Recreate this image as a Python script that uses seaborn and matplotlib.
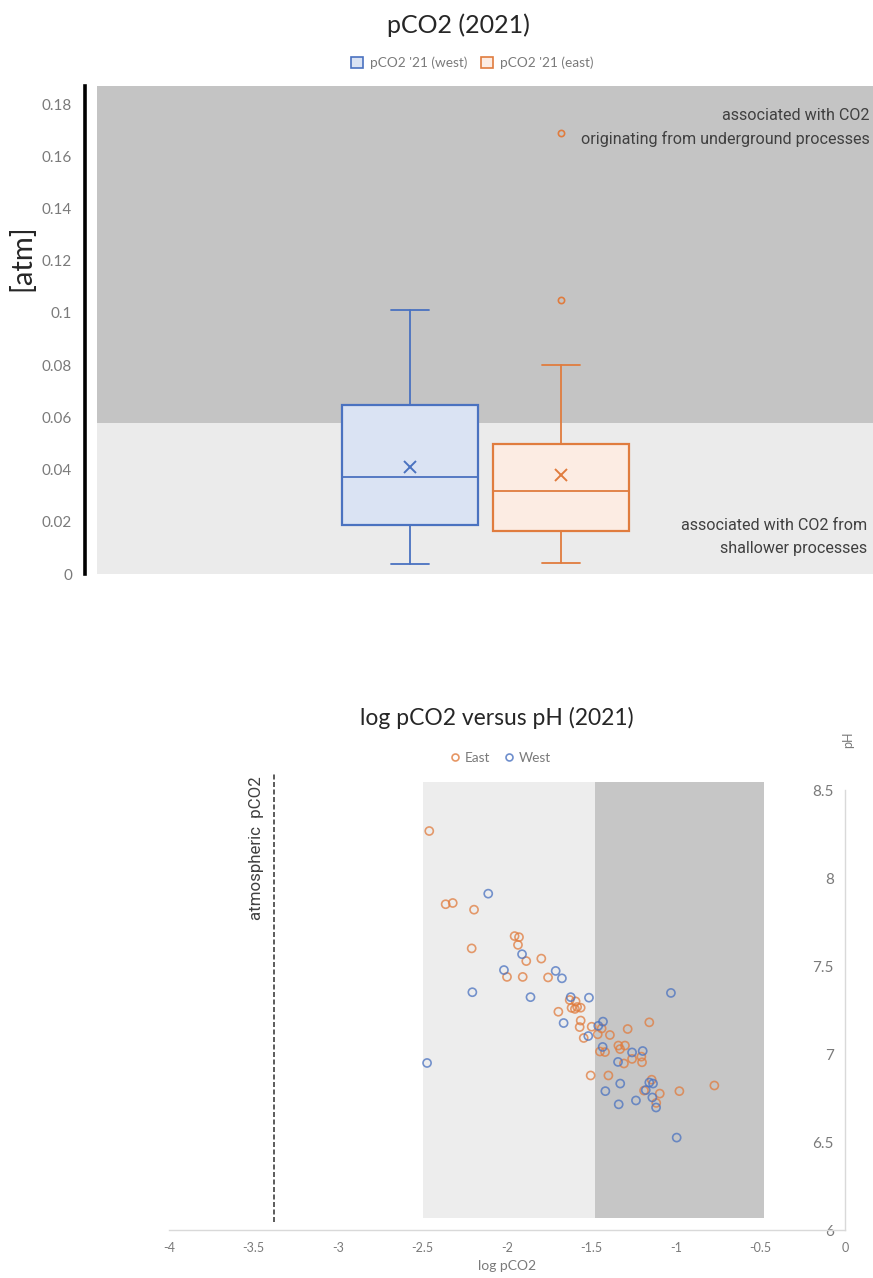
import matplotlib
matplotlib.use("Agg")
import matplotlib.pyplot as plt
import seaborn as sns
import pandas as pd
from matplotlib.patches import Rectangle, Patch
from matplotlib.lines import Line2D

# ---------------- data: box plot (pCO2 2021, atm) ----------------
box_labels = ["pCO2 '21 (west)", "pCO2 '21 (east)"]
box_whislo = [0.0038, 0.0041]
box_q1 = [0.0187, 0.0166]
box_median = [0.0372, 0.0317]
box_q3 = [0.0646, 0.0499]
box_whishi = [0.1011, 0.0801]
box_mean = [0.0411, 0.0378]
box_outliers = [[], [0.105, 0.169]]
top_yticks = [0, 0.02, 0.04, 0.06, 0.08, 0.1, 0.12, 0.14, 0.16, 0.18]
top_yticklabels = ["0", "0.02", "0.04", "0.06", "0.08", "0.1", "0.12", "0.14", "0.16", "0.18"]
deep_threshold = 0.058
top_ymax = 0.1869

# ---------------- data: scatter (log pCO2 vs pH) ----------------
east_log_pco2 = [-2.46, -2.363, -2.321, -2.195, -2.209, -1.955, -1.929, -1.935, -1.886, -1.797,
                 -2.0, -1.907, -1.757, -1.629, -1.594, -1.618, -1.598, -1.585, -1.564, -1.696,
                 -1.564, -1.57, -1.499, -1.44, -1.286, -1.158, -1.546, -1.463, -1.391, -1.341,
                 -1.331, -1.302, -1.45, -1.42, -1.26, -1.205, -1.201, -1.308, -1.505, -1.4,
                 -1.144, -0.773, -1.189, -1.096, -0.98, -1.117]
east_ph = [8.267, 7.851, 7.858, 7.82, 7.60, 7.67, 7.664, 7.62, 7.528, 7.542,
           7.438, 7.438, 7.435, 7.307, 7.299, 7.262, 7.256, 7.267, 7.263, 7.24,
           7.19, 7.153, 7.155, 7.145, 7.142, 7.18, 7.091, 7.112, 7.108, 7.048,
           7.028, 7.048, 7.014, 7.011, 6.972, 6.985, 6.953, 6.946, 6.878, 6.878,
           6.854, 6.821, 6.792, 6.775, 6.789, 6.722]
west_log_pco2 = [-2.111, -1.911, -2.018, -1.712, -1.675, -2.205, -1.861, -1.623, -1.515, -1.03,
                 -1.665, -1.46, -1.432, -1.519, -1.434, -1.26, -1.197, -1.343, -1.33, -1.158,
                 -1.136, -1.418, -1.179, -1.14, -1.237, -1.339, -1.118, -0.996, -2.473]
west_ph = [7.911, 7.567, 7.477, 7.472, 7.43, 7.351, 7.323, 7.323, 7.32, 7.347,
           7.176, 7.16, 7.184, 7.102, 7.04, 7.009, 7.017, 6.955, 6.832, 6.838,
           6.832, 6.789, 6.795, 6.753, 6.736, 6.714, 6.696, 6.525, 6.949]
atm_log_pco2 = -3.38
shallow_range = [-2.5, -1.48]
deep_range = [-1.48, -0.48]
x_ticks = [-4, -3.5, -3, -2.5, -2, -1.5, -1, -0.5, 0]
x_ticklabels = ["-4", "-3.5", "-3", "-2.5", "-2", "-1.5", "-1", "-0.5", "0"]
y_ticks = [6, 6.5, 7, 7.5, 8, 8.5]
y_ticklabels = ["6", "6.5", "7", "7.5", "8", "8.5"]

# ---------------- style ----------------
sns.set_theme(style="white")
plt.rcParams["font.family"] = ["Lato", "DejaVu Sans"]

BLUE = "#4A72C0"
ORANGE = "#E07C3E"
BLUE_FILL = "#DAE3F3"
ORANGE_FILL = "#FCECE3"
DARK_BG = "#C4C4C4"
LIGHT_BG = "#EBEBEB"
TICK_C = "#7A7A7A"
TEXT_C = "#262626"

W, H = 873, 1278
fig = plt.figure(figsize=(W / 100, H / 100), dpi=100)


def fx(px):
    return px / W


def fy(py):
    return 1 - py / H


# ================= top: box plot =================
ax1 = fig.add_axes([fx(97), fy(574), fx(873) - fx(97), fy(86) - fy(574)])
ax1.set_xlim(0, 1)
ax1.set_ylim(0, top_ymax)
ax1.axhspan(0, deep_threshold, color=LIGHT_BG, lw=0, zorder=0)
ax1.axhspan(deep_threshold, top_ymax, color=DARK_BG, lw=0, zorder=0)

stats = []
for i in range(len(box_labels)):
    stats.append(dict(label=box_labels[i], whislo=box_whislo[i], q1=box_q1[i], med=box_median[i],
                      q3=box_q3[i], whishi=box_whishi[i], mean=box_mean[i], fliers=box_outliers[i]))

positions = [0.4034, 0.598]
colors = [BLUE, ORANGE]
fills = [BLUE_FILL, ORANGE_FILL]
for i, st in enumerate(stats):
    c = colors[i]
    ax1.bxp([st], positions=[positions[i]], widths=0.175, patch_artist=True, showmeans=True,
            showfliers=True, manage_ticks=False, capwidths=0.05,
            boxprops=dict(facecolor=fills[i], edgecolor=c, linewidth=1.6),
            whiskerprops=dict(color=c, linewidth=1.3),
            capprops=dict(color=c, linewidth=1.3),
            medianprops=dict(color=c, linewidth=1.3),
            meanprops=dict(marker="x", markeredgecolor=c, markersize=9, markeredgewidth=1.4),
            flierprops=dict(marker="o", markerfacecolor="none", markeredgecolor=c,
                            markersize=4.5, markeredgewidth=1.2),
            zorder=3)

ax1.set_yticks(top_yticks)
ax1.set_yticklabels(top_yticklabels, fontsize=10.5)
ax1.set_xticks([])
for s in ["top", "right", "bottom"]:
    ax1.spines[s].set_visible(False)
ax1.spines["left"].set_position(("outward", 9))
ax1.spines["left"].set_color("black")
ax1.spines["left"].set_linewidth(2.6)
ax1.tick_params(axis="y", length=0, pad=9, labelcolor=TICK_C)

ann_kw = dict(ha="right", va="center", fontsize=11.6, color="#404040",
              family=["Roboto", "DejaVu Sans"], transform=ax1.transAxes)
ax1.text((870 - 97) / 776, (574 - 115) / 488, "associated with CO2", **ann_kw)
ax1.text((870 - 97) / 776, (574 - 139) / 488, "originating from underground processes", **ann_kw)
ax1.text((867 - 97) / 776, (574 - 525) / 488, "associated with CO2 from", **ann_kw)
ax1.text((867 - 97) / 776, (574 - 549) / 488, "shallower processes", **ann_kw)

fig.text(fx(22), fy(258), "[atm]", rotation=90, ha="center", va="center", fontsize=21, color=TEXT_C)
fig.text(fx(458), fy(25), "pCO2 (2021)", ha="center", va="center", fontsize=18, color=TEXT_C)

leg_handles = [Patch(facecolor=fills[i], edgecolor=colors[i], linewidth=1.2, label=box_labels[i])
               for i in range(len(box_labels))]
fig.legend(handles=leg_handles, loc="center", bbox_to_anchor=(fx(472), fy(63)), ncol=2,
           frameon=False, fontsize=9.8, handlelength=0.9, handleheight=0.9, handletextpad=0.5,
           columnspacing=1.0, labelcolor=TICK_C)

# ================= bottom: scatter =================
ax2 = fig.add_axes([fx(169), fy(1230), fx(845) - fx(169), fy(790) - fy(1230)])
ax2.set_xlim(-4, 0)
ax2.set_ylim(6, 8.5)

ax2.add_patch(Rectangle((shallow_range[0], 6.07), shallow_range[1] - shallow_range[0], 8.545 - 6.07,
                        facecolor="#EDEDED", edgecolor="none", zorder=0, clip_on=False))
ax2.add_patch(Rectangle((deep_range[0], 6.07), deep_range[1] - deep_range[0], 8.545 - 6.07,
                        facecolor="#C6C6C6", edgecolor="none", zorder=0, clip_on=False))
ax2.plot([atm_log_pco2, atm_log_pco2], [6.045, 8.6], ls=(0, (3, 1.5)), color="#404040",
         lw=1.2, clip_on=False, zorder=1)
ax2.text(-3.485, 8.578, "atmospheric  pCO2", rotation=90, ha="center", va="top", fontsize=12.2,
         color="#404040", family=["Roboto", "DejaVu Sans"])

east_df = pd.DataFrame({"log pCO2": east_log_pco2, "pH": east_ph})
west_df = pd.DataFrame({"log pCO2": west_log_pco2, "pH": west_ph})
sns.scatterplot(data=east_df, x="log pCO2", y="pH", ax=ax2, color=ORANGE, facecolor="none",
                edgecolor=ORANGE, linewidth=1.2, s=34, alpha=0.75, zorder=3, legend=False)
sns.scatterplot(data=west_df, x="log pCO2", y="pH", ax=ax2, color=BLUE, facecolor="none",
                edgecolor=BLUE, linewidth=1.2, s=34, alpha=0.75, zorder=3, legend=False)

ax2.set_xticks(x_ticks)
ax2.set_xticklabels(x_ticklabels, fontsize=9)
ax2.set_yticks(y_ticks)
ax2.set_yticklabels(y_ticklabels, fontsize=9.5)
ax2.spines["top"].set_visible(False)
ax2.spines["right"].set_visible(False)
ax2.spines["left"].set_position(("data", 0))
ax2.spines["left"].set_color("#D9D9D9")
ax2.spines["bottom"].set_color("#D9D9D9")
ax2.spines["left"].set_linewidth(1.0)
ax2.spines["bottom"].set_linewidth(1.0)
ax2.tick_params(axis="y", length=0, pad=8, labelcolor=TICK_C)
ax2.tick_params(axis="x", length=0, pad=9, labelcolor=TICK_C)
ax2.set_xlabel("log pCO2", color=TICK_C, fontsize=10, labelpad=4)
ax2.set_ylabel("")

fig.text(fx(848), fy(740), "pH", rotation=90, ha="center", va="center", fontsize=9, color=TICK_C)
fig.text(fx(497), fy(718), "log pCO2 versus pH (2021)", ha="center", va="center", fontsize=16.5,
         color=TEXT_C)

sc_handles = [Line2D([], [], ls="none", marker="o", markerfacecolor="none", markeredgecolor=ORANGE,
                     markersize=5, markeredgewidth=1.2, alpha=0.8, label="East"),
              Line2D([], [], ls="none", marker="o", markerfacecolor="none", markeredgecolor=BLUE,
                     markersize=5, markeredgewidth=1.2, alpha=0.8, label="West")]
fig.legend(handles=sc_handles, loc="center", bbox_to_anchor=(fx(500), fy(758)), ncol=2,
           frameon=False, fontsize=9.8, handlelength=0.8, handletextpad=0.3, columnspacing=1.0,
           labelcolor=TICK_C)

fig.savefig("out.png", dpi=100)
